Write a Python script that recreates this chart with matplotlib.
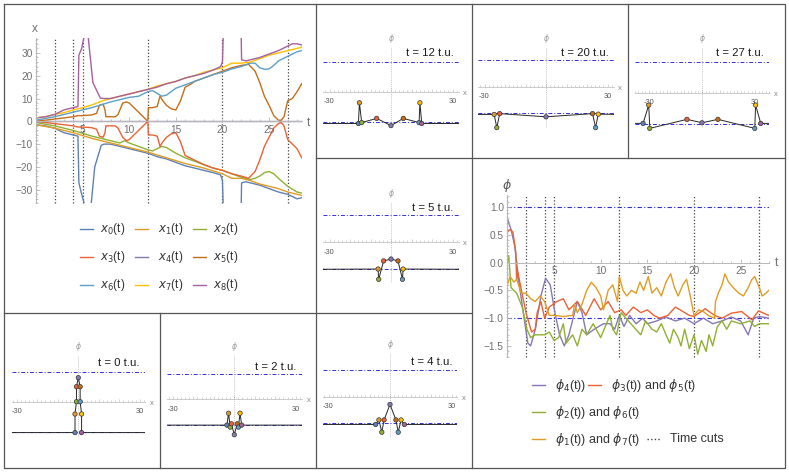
import numpy as np
import matplotlib.pyplot as plt
from matplotlib.ticker import MultipleLocator, FuncFormatter

plt.rcParams['font.family'] = ['Liberation Sans', 'DejaVu Sans']

W, H = 789, 473
fig = plt.figure(figsize=(W / 100, H / 100), dpi=100)

colors = ['#5E81B5', '#E19C24', '#8FB032', '#EB6235', '#8778B3',
          '#C56E1A', '#5D9EC7', '#FFBF00', '#A5609D']
cut_times = [0, 2, 4, 5, 12, 20, 27]

# trajectories x_i(t)
t0 = [0, 1, 2, 3, 4, 4.5, 4.6, 4.9, 5.2, 5.5, 5.9, 6.3, 7.0, 7.3, 8, 9, 10, 11, 12, 13, 14, 15, 16, 17, 18, 19, 19.8, 20.0, 20.1, 22.0, 22.05, 22.5, 23, 24, 25, 26, 27, 27.5, 28, 28.5]
x0 = [-1.5, -2, -3, -5, -6, -6.5, -27, -32, -36.5, -40, -37, -20, -10.5, -10, -10, -11, -12, -13, -14, -15.5, -16.5, -18, -19.5, -20.5, -21.5, -22.5, -23.5, -26, -40, -40, -27, -26.5, -27, -28, -29.5, -31, -32, -33, -34, -33.5]
t1 = [0, 2, 4, 6, 8, 10, 12, 14, 16, 18, 20, 21, 22, 23, 24, 25, 26, 27, 28, 28.5]
x1 = [-1.5, -3, -5, -7.5, -9.5, -11.5, -13.5, -16, -18.5, -20.5, -23, -25, -25, -26, -27.5, -28.5, -29.5, -31, -32, -32.5]
t2 = [0, 2, 4, 6, 8, 9, 9.5, 10, 11, 12, 12.5, 13, 13.5, 14, 15, 16, 17, 18, 19, 20, 21, 22, 23, 23.5, 24, 24.5, 25, 25.5, 26, 27, 28, 28.5]
x2 = [-0.5, -2, -4, -6.5, -8.5, -9.5, -8.5, -9.5, -11, -12.5, -13, -12, -11, -11.5, -14, -16, -17.5, -19, -20.5, -21.5, -23, -24.5, -25.5, -25, -24, -22.5, -22, -23, -25, -28.5, -31, -31.5]
t3 = [0, 1, 2, 3, 4, 4.5, 5, 6, 6.5, 6.8, 7.2, 7.4, 7.5, 8.5, 8.8, 9.3, 9.7, 10, 10.5, 11, 11.5, 12, 12.05, 12.5, 13, 13.3, 13.6, 14, 14.5, 15, 15.5, 16, 16.5, 17, 18, 19, 20, 21, 22, 22.8, 23.5, 24, 24.5, 25, 25.5, 26, 26.3, 26.6, 27, 27.5, 28, 28.5]
x3 = [0, -0.5, -1, -1.5, -2, -2.5, -2.5, -2.8, -3.5, -6.5, -7, -5, -2, -2, -3, -7, -8.5, -8, -6, -4, -2, 0, -6, -6, -6.5, -11, -9, -7, -5.5, -5, -9, -15, -16, -17, -19, -20.5, -21.5, -23, -24, -25, -22, -17, -11, -7, -3, -1, -0.5, -2, -8, -10, -12, -16]
t4 = [0, 28.5]
x4 = [0, 0]
t5 = [0, 1, 2, 3, 4, 4.5, 5, 6, 6.5, 6.8, 7.2, 7.4, 7.5, 8.5, 8.8, 9.3, 9.7, 10, 10.5, 11, 11.5, 12, 12.05, 12.5, 13, 13.3, 13.6, 14, 14.5, 15, 15.5, 16, 16.5, 17, 18, 19, 20, 21, 22, 22.8, 23.5, 24, 24.5, 25, 25.5, 26, 26.3, 26.6, 27, 27.5, 28, 28.5]
x5 = [0, 0.5, 1, 1.5, 2, 2.5, 2.5, 2.8, 3.5, 7, 7.5, 5, 2, 2, 3, 8, 8.5, 8, 6, 4, 2, 0, 6, 6, 6.5, 11, 9, 7, 5.5, 5, 9, 15, 16, 17.5, 19, 20.5, 22, 23.5, 24.5, 25, 22, 17, 11, 7, 2.5, 0.5, 0.5, 2, 9, 10, 13, 16.5]
t6 = [0, 2, 4, 6, 8, 10, 11, 12, 12.5, 13.5, 14, 14.5, 15, 16, 17, 18, 19, 20, 21, 22, 23, 23.5, 24, 24.5, 25, 25.5, 26, 27, 28, 28.5]
x6 = [0.5, 2, 4, 6, 8.5, 10.5, 11, 13, 13.5, 11, 11.5, 13, 14.5, 16, 17.5, 19, 20.5, 21.5, 23, 24, 25.5, 25.5, 23.5, 22.8, 23, 24.5, 26.5, 28.5, 30.5, 31]
t7 = [0, 1, 2, 3, 4, 5, 6, 7, 8, 9, 10, 11, 12, 13, 14, 15, 16, 17, 18, 19, 20, 21, 22, 23, 24, 25, 26, 27, 28, 28.5]
x7 = [1.5, 2, 3, 3.8, 5, 6, 7.2, 8.8, 10, 11, 12, 13, 14, 15.5, 16.5, 17.5, 19, 20, 21.5, 22.5, 23.5, 25.5, 25.5, 26, 27.5, 29, 30, 31, 32, 32.5]
t8 = [0, 1, 2, 3, 4, 4.5, 4.6, 4.9, 5.2, 5.6, 6.1, 6.9, 7.3, 8, 9, 10, 11, 12, 13, 14, 15, 16, 17, 18, 19, 19.8, 20.0, 20.1, 22.0, 22.05, 22.5, 23, 24, 25, 26, 27, 27.5, 28, 28.5]
x8 = [1.5, 2, 3, 5, 6, 6.5, 29, 32, 38, 37, 17, 10.2, 10, 10, 11, 12, 13, 14, 15, 16.5, 17.5, 19, 20, 21, 22.5, 24, 26, 40, 40, 27, 26.5, 27, 28, 29.5, 31, 33, 34, 34, 33.5]

traj_t = [t0, t1, t2, t3, t4, t5, t6, t7, t8]
traj_x = [x0, x1, x2, x3, x4, x5, x6, x7, x8]

# field values phi(t)
phi4_t = [0, 0.4, 0.8, 1.2, 1.8, 2.2, 2.5, 3.0, 3.6, 4.1, 4.6, 5.1, 5.6, 6.1, 6.6, 7.2, 7.5, 8.0, 8.5, 9.3, 10.3, 11.0, 11.5, 12.0, 12.5, 13.1, 13.8, 14.5, 15.0, 16.0, 17.0, 18.0, 19.0, 20.0, 21.0, 22.0, 23.0, 24.0, 25.0, 25.8, 26.4, 27.0, 28.0]
phi4 = [0.8, 0.6, 0.3, -0.3, -1.0, -1.45, -1.5, -1.2, -0.6, -0.28, -0.4, -0.9, -1.3, -1.5, -1.3, -0.9, -0.7, -0.9, -1.3, -1.2, -1.1, -1.1, -1.2, -0.95, -1.15, -0.95, -1.1, -1.0, -1.1, -1.05, -0.98, -1.05, -1.0, -1.1, -1.0, -1.1, -1.05, -0.98, -1.05, -1.3, -1.0, -0.97, -1.0]
phi35_t = [0, 0.3, 0.6, 0.9, 1.0, 1.1, 1.4, 2.0, 2.6, 3.0, 3.2, 3.6, 4.0, 4.5, 5.3, 6.0, 6.6, 7.5, 8.4, 9.3, 10.0, 10.8, 11.5, 12.2, 12.7, 13.5, 14.3, 15.0, 15.7, 16.3, 17.2, 18.0, 18.5, 19.5, 20.0, 21.2, 22.2, 23.0, 24.0, 25.1, 26.2, 26.9, 28.0]
phi35 = [0.55, 0.6, 0.55, 0.2, -0.3, -0.15, -0.4, -0.9, -1.25, -1.2, -0.9, -0.7, -1.0, -0.8, -0.7, -0.65, -0.85, -0.7, -0.95, -0.65, -0.85, -0.7, -0.9, -0.85, -0.95, -0.8, -0.9, -0.85, -0.95, -1.0, -0.95, -0.8, -0.85, -0.95, -0.97, -0.83, -0.95, -1.0, -0.91, -0.88, -1.03, -0.87, -0.95]
phi26_t = [0, 0.15, 0.4, 1.0, 1.6, 2.1, 2.5, 3.0, 4.0, 4.5, 5.0, 5.5, 6.0, 6.3, 7.0, 7.5, 8.0, 8.5, 9.2, 10.0, 10.5, 11.0, 11.3, 11.7, 12.2, 12.7, 13.5, 14.3, 14.8, 15.5, 16.0, 16.5, 17.0, 17.4, 17.8, 18.3, 18.6, 19.0, 19.5, 20.0, 20.4, 20.8, 21.3, 21.6, 22.0, 22.5, 23.0, 23.5, 24.0, 25.0, 26.0, 26.5, 27.0, 28.0]
phi26 = [0.0, 0.13, -0.45, -0.55, -0.8, -1.2, -1.35, -1.3, -1.3, -1.25, -1.4, -1.35, -1.1, -1.45, -1.3, -1.5, -1.2, -1.3, -1.1, -1.35, -1.15, -0.95, -1.2, -1.3, -0.9, -1.0, -1.15, -1.3, -1.05, -1.2, -1.25, -1.1, -1.3, -1.45, -1.2, -1.35, -1.5, -1.2, -1.55, -1.3, -1.65, -1.4, -1.6, -1.3, -1.5, -1.15, -1.05, -1.2, -1.05, -1.1, -1.05, -1.15, -1.1, -1.1]
phi17_t = [0, 0.3, 0.7, 1.0, 1.5, 2.0, 2.5, 3.0, 3.5, 4.0, 4.5, 5.0, 6.0, 7.0, 7.2, 7.5, 8.0, 8.5, 9.0, 9.5, 10.0, 10.3, 10.8, 11.3, 11.8, 12.0, 12.4, 12.8, 13.3, 13.8, 14.2, 14.6, 15.1, 15.5, 16.0, 16.5, 17.0, 17.5, 17.9, 18.3, 18.8, 19.2, 19.6, 20.0, 20.5, 21.0, 21.5, 22.2, 22.3, 22.6, 23.0, 23.3, 23.7, 24.2, 24.8, 25.3, 25.8, 26.2, 26.5, 27.0, 27.3, 27.7, 28.0]
phi17 = [-0.4, -0.25, -0.35, -0.3, -0.55, -0.55, -0.65, -0.7, -0.6, -0.7, -0.95, -0.95, -0.97, -0.95, -0.75, -0.9, -0.75, -0.5, -0.35, -0.45, -0.6, -0.85, -0.5, -0.4, -0.7, -0.25, -0.5, -0.6, -0.5, -0.55, -0.35, -0.5, -0.25, -0.55, -0.45, -0.6, -0.35, -0.2, -0.45, -0.6, -0.4, -0.3, -0.6, -0.95, -0.85, -0.88, -0.95, -1.0, -0.7, -0.55, -0.4, -0.2, -0.35, -0.45, -0.55, -0.6, -0.45, -0.3, -0.25, -0.45, -0.6, -0.55, -0.5]

# snapshots: particle positions and field values at the time cuts
snap_x = {
    0: [-1.6, -1.6, -0.9, -0.9, 0, 0.9, 0.9, 1.6, 1.6],
    2: [-3.6, -2.8, -2.0, -1.4, 0, 1.4, 2.0, 2.8, 3.6],
    4: [-7.0, -5.4, -4.0, -2.9, 0, 2.9, 4.0, 5.4, 7.0],
    5: [-40, -6.3, -6.0, -3.6, 0, 3.4, 5.6, 5.9, 40],
    12: [-15.9, -15.4, -14.3, -7.0, 0, 6.0, 13.7, 14.1, 15.0],
    20: [-40, -25.3, -24.0, -22.6, 0, 22.7, 24.2, 25.5, 40],
    27: [-33.3, -30.1, -29.5, -8.5, 0, 9.0, 29.8, 30.3, 33.2],
}
snap_phi = {
    0: [-1.03, -0.41, 0.0, 0.5, 0.8, 0.5, 0.0, -0.41, -1.03],
    2: [-1.02, -0.55, -1.1, -0.97, -1.4, -0.97, -1.1, -0.55, -1.02],
    4: [-1.04, -0.87, -1.33, -0.87, -0.29, -0.87, -1.33, -0.87, -1.04],
    5: [-1.0, -0.99, -1.37, -0.69, -0.62, -0.69, -1.37, -0.99, -1.0],
    12: [-1.06, -0.37, -1.03, -0.89, -1.13, -0.89, -1.03, -0.37, -1.06],
    20: [-1.05, -1.05, -1.55, -1.02, -1.14, -1.02, -1.55, -1.04, -1.05],
    27: [-0.99, -0.40, -1.15, -0.86, -0.97, -0.86, -1.15, -0.40, -0.99],
}

# panel layout in pixels: centre x, phi=0 row, px per x, px per phi, half width, top, bottom, label row
snap_geom = {
    0: (78.3, 401.7, 2.05, 30.0, 32.5, 355.0, 438.3, 363.3),
    2: (234.3, 399.3, 2.05, 25.3, 33.0, 355.0, 436.7, 366.7),
    4: (390.0, 396.7, 2.05, 26.7, 32.8, 353.3, 438.3, 362.3),
    5: (391.0, 242.3, 2.05, 27.0, 33.0, 201.7, 283.3, 207.7),
    12: (391.0, 91.7, 2.05, 30.0, 33.0, 46.7, 128.3, 53.3),
    20: (546.0, 86.7, 2.05, 26.4, 33.0, 46.7, 128.3, 52.7),
    27: (702.0, 92.7, 1.77, 31.0, 38.0, 46.7, 128.3, 53.3),
}

AX_GRAY = '#b8b8b8'
LBL_GRAY = '#6f6f6f'
BLUE_DD = '#3030dd'
DASHDOT = (0, (4, 2, 1, 2))
CUT = (0, (1, 1.6))


def px_axes(l, t, r, b):
    ax = fig.add_axes([l / W, 1 - b / H, (r - l) / W, (b - t) / H])
    ax.set_facecolor('none')
    return ax


def math_style(ax, size):
    for s in ('top', 'right'):
        ax.spines[s].set_visible(False)
    for s in ('bottom', 'left'):
        ax.spines[s].set_position(('data', 0))
        ax.spines[s].set_color(AX_GRAY)
        ax.spines[s].set_linewidth(0.7)
    ax.tick_params(which='both', direction='in', color=AX_GRAY, width=0.6,
                   labelcolor=LBL_GRAY, labelsize=size, pad=2.5)
    ax.tick_params(which='major', length=3)
    ax.tick_params(which='minor', length=1.6)
    ax.xaxis.set_zorder(3)
    ax.yaxis.set_zorder(3)


bg = fig.add_axes([0, 0, 1, 1])
bg.set_xlim(0, W)
bg.set_ylim(H, 0)
bg.axis('off')

# panel frames
frame = dict(color='#555555', lw=0.9)
bg.plot([4, 785, 785, 4, 4], [4, 4, 468, 468, 4], **frame)
bg.plot([316, 316], [4, 468], **frame)
bg.plot([472, 472], [4, 468], **frame)
bg.plot([628, 628], [4, 158], **frame)
bg.plot([160, 160], [313, 468], **frame)
bg.plot([316, 785], [158, 158], **frame)
bg.plot([4, 472], [313, 313], **frame)

# trajectories
ax = px_axes(36, 38.1, 301.7, 203.4)
ax.set_xlim(0, 28.5)
ax.set_ylim(-36, 36.5)
math_style(ax, 7.3)
ax.xaxis.set_minor_locator(MultipleLocator(1))
ax.yaxis.set_major_locator(MultipleLocator(10))
ax.yaxis.set_minor_locator(MultipleLocator(2))
ax.set_xticks([5, 10, 15, 20, 25])
for tc in cut_times:
    ax.axvline(tc, color='#444444', lw=0.9, ls=CUT, zorder=1.5, clip_on=False)
for i in range(9):
    ax.plot(traj_t[i], traj_x[i], color=colors[i], lw=1.0, zorder=2)
bg.text(35, 29.5, 'x', ha='center', va='center', fontsize=8.5, color=LBL_GRAY)
bg.text(308, 123, 't', ha='center', va='center', fontsize=8.5, color=LBL_GRAY)

leg_rows = [229, 257, 285]
leg_line_x = [80, 135, 192.7]
leg_text_x = [100, 158.3, 213.3]
for r in range(3):
    for c in range(3):
        i = r * 3 + c
        bg.plot([leg_line_x[c], leg_line_x[c] + 13.3], [leg_rows[r]] * 2,
                color=colors[i], lw=1.0)
        bg.text(leg_text_x[c], leg_rows[r], r'$x_{%d}$(t)' % i, ha='left',
                va='center', fontsize=8.5, color='#333333')

# field values
ax2 = px_axes(507.3, 195, 768.7, 357)
ax2.set_xlim(0, 28)
ax2.set_ylim(-1.7, 1.22)
math_style(ax2, 7.3)
ax2.set_xticks([5, 10, 15, 20, 25])
ax2.xaxis.set_minor_locator(MultipleLocator(1))
ax2.set_yticks([-1.5, -1.0, -0.5, 0.0, 0.5, 1.0])
ax2.yaxis.set_minor_locator(MultipleLocator(0.1))
ax2.yaxis.set_major_formatter(FuncFormatter(lambda v, _: f'{v:.1f}'.replace('-', '\u2212')))
ax2.axhline(1, color=BLUE_DD, lw=0.8, ls=DASHDOT, zorder=1.6)
ax2.axhline(-1, color=BLUE_DD, lw=0.8, ls=DASHDOT, zorder=1.6)
for tc in cut_times:
    ax2.axvline(tc, color='#444444', lw=0.9, ls=CUT, zorder=1.5, clip_on=False)
ax2.plot(phi4_t, phi4, color=colors[4], lw=1.0, zorder=2)
ax2.plot(phi35_t, phi35, color=colors[3], lw=1.0, zorder=2)
ax2.plot(phi26_t, phi26, color=colors[2], lw=1.0, zorder=2)
ax2.plot(phi17_t, phi17, color=colors[1], lw=1.0, zorder=2)
bg.text(507, 185, r'$\phi$', ha='center', va='center', fontsize=9, color='#555555')
bg.text(776, 263, 't', ha='center', va='center', fontsize=8.5, color=LBL_GRAY)

leg2 = [
    (532, 385, colors[4], '-', r'$\phi_4$(t))'),
    (588, 385, colors[3], '-', r'$\phi_3$(t)) and $\phi_5$(t)'),
    (532, 412, colors[2], '-', r'$\phi_2$(t)) and $\phi_6$(t)'),
    (532, 439, colors[1], '-', r'$\phi_1$(t)) and $\phi_7$(t)'),
    (647, 439, '#444444', CUT, 'Time cuts'),
]
for lx, ly, lc, ls, lt in leg2:
    bg.plot([lx, lx + 13], [ly, ly], color=lc, lw=1.0, ls=ls)
    bg.text(lx + 23, ly, lt, ha='left', va='center', fontsize=9, color='#333333')

# snapshots
for tc in cut_times:
    cx, cy, sx, sy, xh, top, bot, ty = snap_geom[tc]
    xs = np.array(snap_x[tc])
    ps = np.array(snap_phi[tc])
    sa = px_axes(cx - xh * sx, top, cx + xh * sx, bot)
    sa.set_xlim(-xh, xh)
    sa.set_ylim((cy - bot) / sy, (cy - top) / sy)
    for s in ('top', 'right', 'left'):
        sa.spines[s].set_visible(False)
    sa.spines['bottom'].set_position(('data', 0))
    sa.spines['bottom'].set_color('#c4c4c4')
    sa.spines['bottom'].set_linewidth(0.6)
    sa.set_yticks([])
    sa.xaxis.set_major_locator(MultipleLocator(10))
    sa.xaxis.set_minor_locator(MultipleLocator(2))
    sa.tick_params(axis='x', which='both', direction='in', color='#c4c4c4',
                   width=0.5, labelbottom=False)
    sa.tick_params(axis='x', which='major', length=2.2)
    sa.tick_params(axis='x', which='minor', length=1.1)
    sa.axvline(0, color='#b0b0b0', lw=0.6, ls=(0, (1, 1.5)))
    sa.axhline(1, color=BLUE_DD, lw=0.7, ls=DASHDOT)
    sa.axhline(-1, color=BLUE_DD, lw=0.7, ls=DASHDOT)
    lx = np.r_[-xh, xs, xh]
    lp = np.r_[ps[0], ps, ps[-1]]
    sa.plot(lx, lp, color='#262626', lw=0.7, zorder=3)
    vis = np.abs(xs) <= xh
    sa.scatter(xs[vis], ps[vis], c=np.array(colors)[vis], s=10,
               edgecolors='#333333', linewidths=0.5, zorder=4, clip_on=False)
    bg.text(cx + xh * sx - 5, ty, 't = %d t.u.' % tc, ha='right', va='center',
            fontsize=8.2, color='#1a1a1a')
    bg.text(cx, top - 8.5, r'$\phi$', ha='center', va='center', fontsize=5.5,
            color='#999999')
    bg.text(cx - 30 * sx, cy + 10, '-30', ha='center', va='center', fontsize=5.3,
            color='#555555')
    bg.text(cx + 30 * sx, cy + 10, '30', ha='center', va='center', fontsize=5.3,
            color='#555555')
    bg.text(cx + xh * sx + 6.5, cy + 1.5, 'x', ha='center', va='center',
            fontsize=5.5, color='#888888')

fig.savefig('out.png', dpi=100)
